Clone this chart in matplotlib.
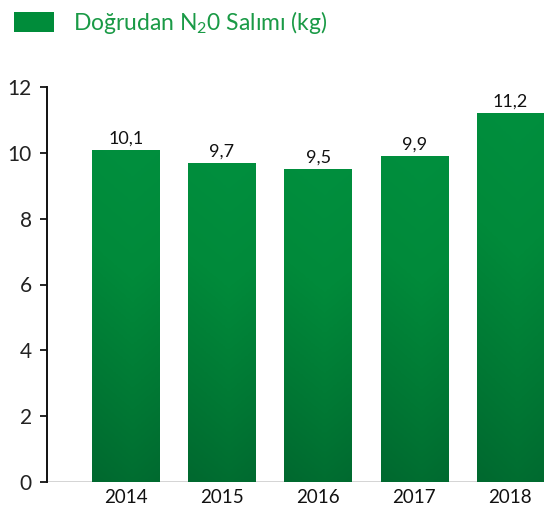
import numpy as np
import matplotlib
matplotlib.use("Agg")
import matplotlib.pyplot as plt
from matplotlib.colors import LinearSegmentedColormap
from matplotlib.patches import Rectangle

years = ["2014", "2015", "2016", "2017", "2018"]
values = [10.1, 9.7, 9.5, 9.9, 11.2]
value_labels = ["10,1", "9,7", "9,5", "9,9", "11,2"]
yticks = [0, 2, 4, 6, 8, 10, 12]
legend_label = "Doğrudan N$_2$0 Salımı (kg)"

plt.rcParams['font.family'] = ['Lato', 'DejaVu Sans']
plt.rcParams['mathtext.fontset'] = 'custom'
plt.rcParams['mathtext.rm'] = 'Lato'

fig = plt.figure(figsize=(5.44, 5.07), dpi=100)
ax = fig.add_axes([47/544, 1-482/507, 1-47/544, (482-87)/507])

x = np.arange(len(years))
bw = 0.7
bars = ax.bar(x, values, width=bw, color='none', edgecolor='none', zorder=2)

cmap = LinearSegmentedColormap.from_list('g', ['#00652e', '#007834', '#008a3a', '#008f3e'])
for b in bars:
    x0, y0 = b.get_x(), b.get_y()
    w, h = b.get_width(), b.get_height()
    yy = np.linspace(0, 1, 200)[:, None]
    xx = np.linspace(0, 1, 50)[None, :]
    grad = 0.85 * yy + 0.15 * (1 - np.abs(xx - 0.6))
    im = ax.imshow(grad, extent=(x0, x0 + w, y0, y0 + h), origin='lower',
                   cmap=cmap, vmin=0, vmax=1, aspect='auto', zorder=2)
    im.set_clip_path(b)

for xi, v, lab in zip(x, values, value_labels):
    ax.text(xi, v + 0.1, lab, ha='center', va='bottom', fontsize=13, color='#111111')

ax.set_xlim(-0.82, 4.35)
ax.set_ylim(0, 12)
ax.set_xticks(x)
ax.set_xticklabels(years, fontsize=13.5, color='#111111')
ax.set_yticks(yticks)
ax.set_yticklabels([str(t) for t in yticks], fontsize=15, color='#222222')
ax.tick_params(axis='x', length=0, pad=5)
ax.tick_params(axis='y', length=5, width=1.2, pad=6)
for s in ['top', 'right', 'bottom']:
    ax.spines[s].set_visible(False)
ax.spines['left'].set_linewidth(1.4)
ax.spines['left'].set_color('#111111')

# faint baseline shadow
ax.axhline(0, color='#d0d0d0', lw=2, zorder=1)

# legend
fig.patches.append(Rectangle((14/544, 1-32/507), 40/544, 20/507, transform=fig.transFigure,
                             facecolor='#008c3a', edgecolor='none'))
fig.text(73/544, 1-22/507, legend_label, fontsize=16.5, color='#1a9a46', va='center', ha='left')

fig.savefig('out.png', dpi=100)
